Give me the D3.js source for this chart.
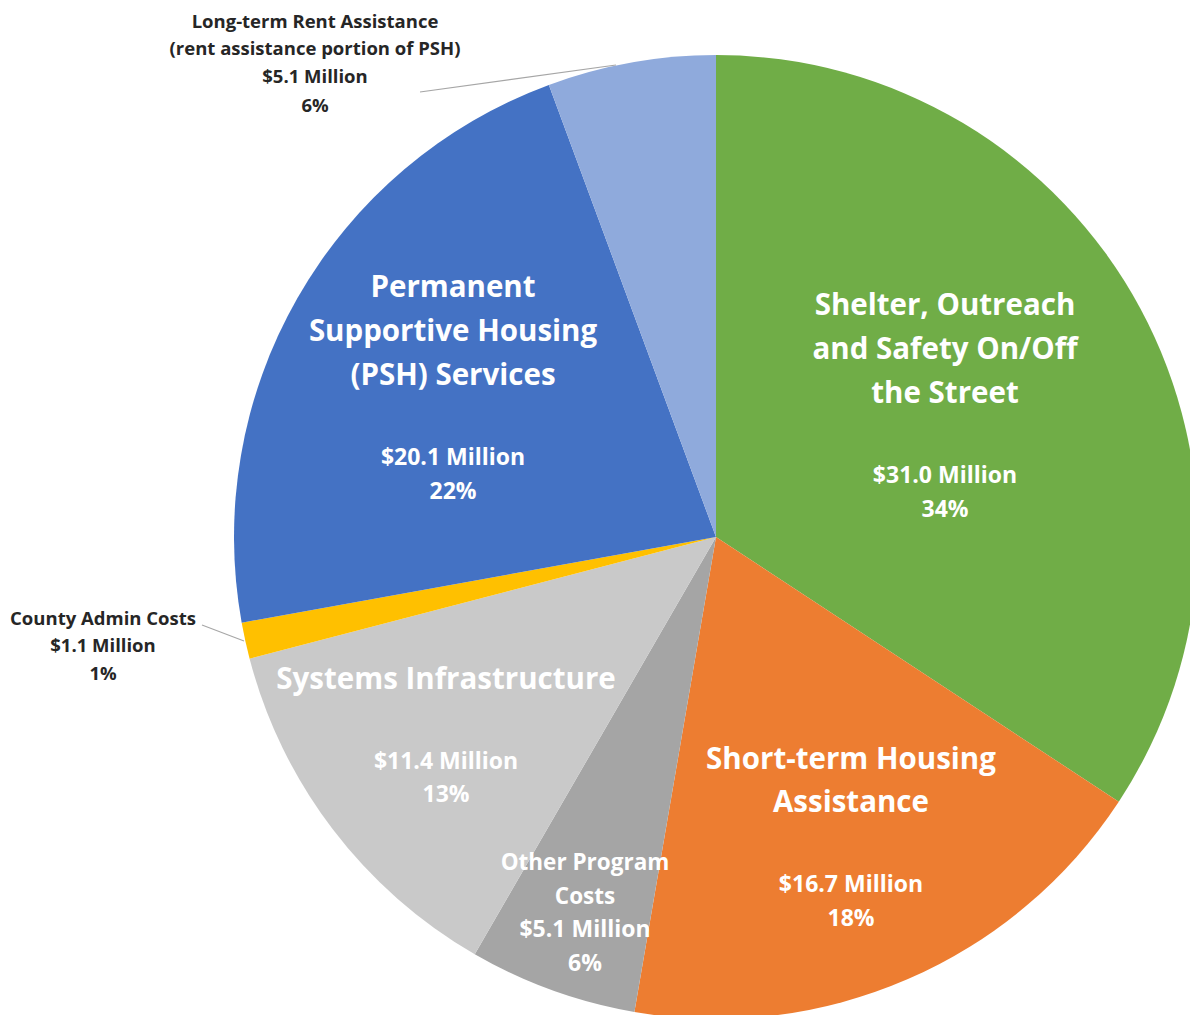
<!DOCTYPE html>
<html>
<head>
<meta charset="utf-8">
<script src="https://cdn.jsdelivr.net/npm/d3@7"></script>
<style>
  html, body { margin: 0; padding: 0; background: #ffffff; }
  svg { display: block; }
  text { font-family: "Open Sans", Lato, "Liberation Sans", sans-serif; font-weight: 700; }
</style>
</head>
<body>
<svg id="chart" width="1190" height="1015"></svg>
<script>
// ---- Data ----
const categories = [
  "Shelter, Outreach and Safety On/Off the Street",
  "Short-term Housing Assistance",
  "Other Program Costs",
  "Systems Infrastructure",
  "County Admin Costs",
  "Permanent Supportive Housing (PSH) Services",
  "Long-term Rent Assistance (rent assistance portion of PSH)"
];
const valuesMillions = [31.0, 16.7, 5.1, 11.4, 1.1, 20.1, 5.1];
const percentLabels = ["34%", "18%", "6%", "13%", "1%", "22%", "6%"];
const nameLines = [
  ["Shelter, Outreach", "and Safety On/Off", "the Street"],
  ["Short-term Housing", "Assistance"],
  ["Other Program", "Costs"],
  ["Systems Infrastructure"],
  ["County Admin Costs"],
  ["Permanent", "Supportive Housing", "(PSH) Services"],
  ["Long-term Rent Assistance", "(rent assistance portion of PSH)"]
];

// ---- Layout / style (kept separate from data) ----
const colors = ["#70AD47", "#ED7D31", "#A5A5A5", "#C9C9C9", "#FFC000", "#4472C4", "#8FAADC"];
const cx = 716, cy = 537, R = 482;

// label layout: offsets relative to centre
const labelLayout = [
  { dx: 229, nameY: -234, nameGap: 44, nameSize: 29.5, valY: -63, valGap: 34, valSize: 23, fill: "#fff" },
  { dx: 135, nameY: 220, nameGap: 43, nameSize: 29.5, valY: 346, valGap: 34, valSize: 23, fill: "#fff" },
  { dx: -131, nameY: 324, nameGap: 34, nameSize: 22.5, valY: 391, valGap: 34, valSize: 23, fill: "#fff" },
  { dx: -270, nameY: 140, nameGap: 44, nameSize: 29.5, valY: 223, valGap: 33, valSize: 23, fill: "#fff" },
  { dx: -613, nameY: 80, nameGap: 27, nameSize: 18.5, valY: 107, valGap: 28, valSize: 18.5, fill: "#262626", leader: [[-514, 88], [-472, 104]] },
  { dx: -263, nameY: -252, nameGap: 44, nameSize: 29.5, valY: -81, valGap: 34, valSize: 23, fill: "#fff" },
  { dx: -401, nameY: -517, nameGap: 27, nameSize: 18.5, valY: -462, valGap: 29, valSize: 18.5, fill: "#262626", leader: [[-296, -445], [-100, -472]] }
];

const svg = d3.select("#chart");
const g = svg.append("g").attr("transform", `translate(${cx},${cy})`);

const pie = d3.pie().sort(null).value(d => d).startAngle(0).endAngle(2 * Math.PI);
const arcs = pie(valuesMillions);
const arcGen = d3.arc().innerRadius(0).outerRadius(R);

g.selectAll("path.slice")
  .data(arcs)
  .enter().append("path")
  .attr("class", "slice")
  .attr("d", arcGen)
  .attr("fill", (d, i) => colors[i]);

// leader lines
labelLayout.forEach((L, i) => {
  if (L.leader) {
    g.append("path")
      .attr("d", d3.line()(L.leader))
      .attr("stroke", "#a6a6a6")
      .attr("stroke-width", 1.2)
      .attr("fill", "none");
  }
});

// labels
arcs.forEach((a, i) => {
  const L = labelLayout[i];
  const t = g.append("g").attr("class", "label");
  nameLines[i].forEach((line, k) => {
    t.append("text")
      .attr("x", L.dx)
      .attr("y", L.nameY + k * L.nameGap)
      .attr("text-anchor", "middle")
      .attr("dominant-baseline", "central")
      .attr("font-size", L.nameSize)
      .attr("fill", L.fill)
      .text(line);
  });
  const vals = ["$" + valuesMillions[i].toFixed(1) + " Million", percentLabels[i]];
  vals.forEach((line, k) => {
    t.append("text")
      .attr("x", L.dx)
      .attr("y", L.valY + k * L.valGap)
      .attr("text-anchor", "middle")
      .attr("dominant-baseline", "central")
      .attr("font-size", L.valSize)
      .attr("fill", L.fill)
      .text(line);
  });
});
</script>
</body>
</html>
